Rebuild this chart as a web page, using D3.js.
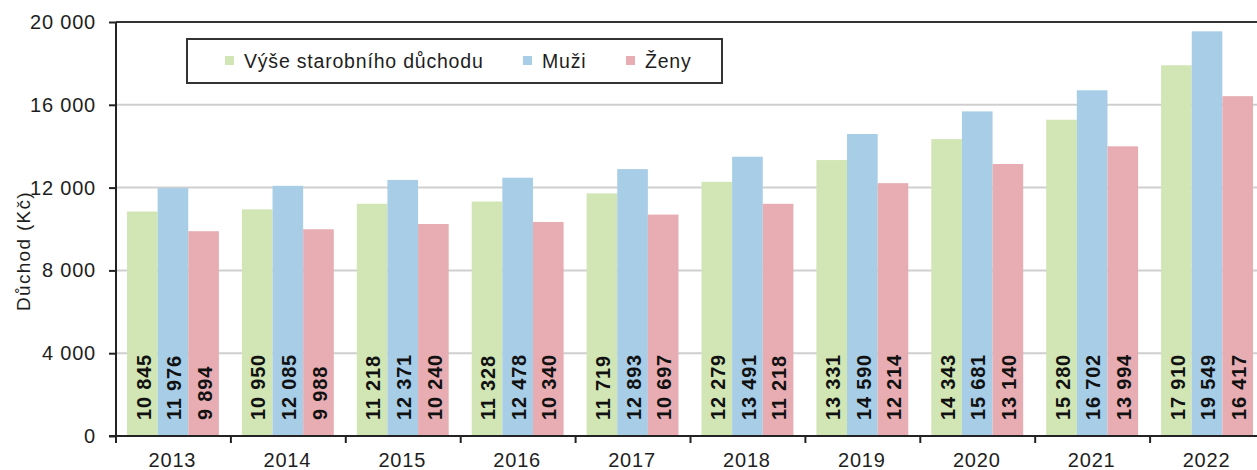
<!DOCTYPE html>
<html>
<head>
<meta charset="utf-8">
<script src="https://cdn.jsdelivr.net/npm/d3@7"></script>
<style>
  html, body { margin: 0; padding: 0; background: #fff; }
  svg { display: block; }
  text { font-family: "Liberation Sans", Arial, sans-serif; fill: #1e1e1e; }
</style>
</head>
<body>
<svg id="chart" width="1257" height="470"></svg>
<script>
// Average old-age pension by year (CZK)
const years = ["2013", "2014", "2015", "2016", "2017", "2018", "2019", "2020", "2021", "2022"];
const seriesNames = ["Výše starobního důchodu", "Muži", "Ženy"];
const total = [10845, 10950, 11218, 11328, 11719, 12279, 13331, 14343, 15280, 17910];
const men   = [11976, 12085, 12371, 12478, 12893, 13491, 14590, 15681, 16702, 19549];
const women = [9894, 9988, 10240, 10340, 10697, 11218, 12214, 13140, 13994, 16417];
const yTicks = [0, 4000, 8000, 12000, 16000, 20000];
const colors = ["#d1e6b4", "#a7cde7", "#e7adb2"];

const svg = d3.select("#chart");
const plotLeft = 116, plotTop = 22, plotBottom = 436;
const step = 114.9;

const x0 = d3.scaleBand().domain(years).range([plotLeft, plotLeft + step * years.length]);
const x1 = d3.scaleBand().domain(seriesNames).range([11, step - 12]);
const y = d3.scaleLinear().domain([0, 20000]).range([plotBottom, plotTop]);

const fmt = v => d3.format(",")(v).replace(/,/g, "\u00a0");

// horizontal gridlines
svg.append("g")
  .selectAll("line")
  .data(yTicks.filter(t => t > 0 && t < 20000))
  .join("line")
  .attr("x1", plotLeft).attr("x2", 1257)
  .attr("y1", d => y(d)).attr("y2", d => y(d))
  .attr("stroke", "#cfcfcf").attr("stroke-width", 2);

// top border of the plot area
svg.append("line")
  .attr("x1", plotLeft).attr("x2", 1257)
  .attr("y1", y(20000)).attr("y2", y(20000))
  .attr("stroke", "#333").attr("stroke-width", 2);

// bars
const rows = years.map((yr, i) => ({ year: yr, values: [total[i], men[i], women[i]] }));
const groups = svg.append("g").selectAll("g")
  .data(rows)
  .join("g")
  .attr("transform", d => `translate(${x0(d.year)},0)`);

groups.selectAll("rect")
  .data(d => d.values.map((v, k) => ({ key: seriesNames[k], v, k })))
  .join("rect")
  .attr("x", d => x1(d.key))
  .attr("width", x1.bandwidth())
  .attr("y", d => y(d.v))
  .attr("height", d => y(0) - y(d.v))
  .attr("fill", d => colors[d.k]);

// value labels inside bars, rotated
groups.selectAll("text")
  .data(d => d.values.map((v, k) => ({ key: seriesNames[k], v, k })))
  .join("text")
  .attr("transform", d => `translate(${x1(d.key) + x1.bandwidth() / 2 + 1},${plotBottom - 16}) rotate(-90)`)
  .attr("dy", "0.36em")
  .attr("text-anchor", "start")
  .style("font-size", "20px")
  .style("font-weight", "bold")
  .style("letter-spacing", "0.8px")
  .style("fill", "#111")
  .text(d => fmt(d.v));

// y axis
const yAxis = svg.append("g")
  .attr("transform", `translate(${plotLeft},0)`)
  .call(d3.axisLeft(y).tickValues(yTicks).tickFormat(fmt).tickSize(7).tickPadding(13));
yAxis.select(".domain").attr("stroke", "#222").attr("stroke-width", 2)
  .attr("d", `M0,${plotBottom + 7}V${plotTop}`);
yAxis.selectAll(".tick line").attr("stroke", "#222").attr("stroke-width", 2);
yAxis.selectAll(".tick text")
  .style("font-size", "20px").style("letter-spacing", "0.8px")
  .style("font-family", "'Liberation Sans', Arial, sans-serif").attr("fill", "#222");

// x axis with ticks at category boundaries
const xAxisG = svg.append("g");
xAxisG.append("line")
  .attr("x1", plotLeft - 7).attr("x2", 1257)
  .attr("y1", plotBottom).attr("y2", plotBottom)
  .attr("stroke", "#222").attr("stroke-width", 2);
xAxisG.selectAll("line.tk")
  .data(years.slice(1))
  .join("line")
  .attr("class", "tk")
  .attr("x1", d => x0(d)).attr("x2", d => x0(d))
  .attr("y1", plotBottom).attr("y2", plotBottom + 7)
  .attr("stroke", "#222").attr("stroke-width", 2);
xAxisG.selectAll("text")
  .data(years)
  .join("text")
  .attr("x", d => x0(d) + x0.bandwidth() / 2 - 1)
  .attr("y", 467)
  .attr("text-anchor", "middle")
  .style("font-size", "20px").style("letter-spacing", "0.8px")
  .text(d => d);

// y axis title
svg.append("text")
  .attr("transform", "translate(23,251) rotate(-90)")
  .attr("dy", "0.36em")
  .attr("text-anchor", "middle")
  .style("font-size", "19px").style("letter-spacing", "1.3px")
  .text("Důchod (Kč)");

// legend
const legend = svg.append("g");
legend.append("rect")
  .attr("x", 187).attr("y", 39).attr("width", 535).attr("height", 44)
  .attr("fill", "#fff").attr("stroke", "#333").attr("stroke-width", 2);
const legendX = [225, 523, 626];
seriesNames.forEach((name, k) => {
  legend.append("rect")
    .attr("x", legendX[k]).attr("y", 56).attr("width", 9).attr("height", 9)
    .attr("fill", colors[k]);
  legend.append("text")
    .attr("x", legendX[k] + 19).attr("y", 61)
    .attr("dy", "0.36em")
    .style("font-size", "19.5px").style("letter-spacing", "0.8px")
    .text(name);
});
</script>
</body>
</html>
